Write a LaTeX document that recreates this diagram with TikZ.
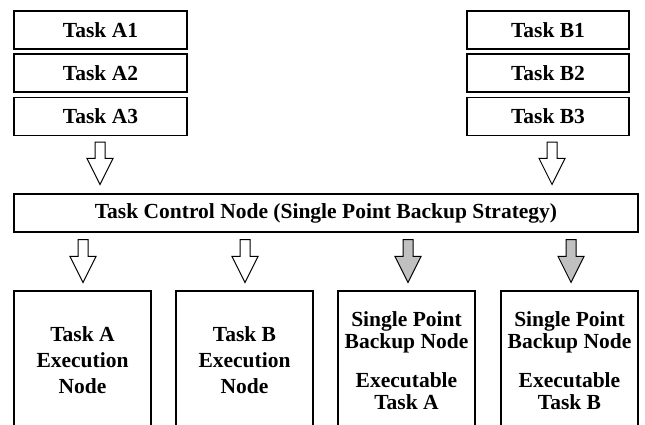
\documentclass[tikz,border=0pt]{standalone}
\usepackage{fontspec}
\setmainfont{Liberation Serif}
\usetikzlibrary{calc}
\tikzset{
  x=1pt, y=1pt,
  taskbox/.style={draw, line width=1.2pt, minimum height=38pt, inner sep=0pt,
    font=\fontsize{21.5}{26}\selectfont\bfseries},
  bigbox/.style={draw, line width=1.2pt, minimum width=137pt, minimum height=139pt,
    inner sep=0pt, align=center},
  arrowline/.style={draw, line width=1pt, line join=miter},
}
\newcommand{\blkarrow}[3]{%
  \path[arrowline, fill=#1] let \p1=#2, \p2=#3 in
    (\x1-5pt,\y1) -- (\x1+5pt,\y1) -- (\x1+5pt,\y2+26pt) -- (\x1+13pt,\y2+26pt)
    -- (\x1,\y2) -- (\x1-13pt,\y2+26pt) -- (\x1-5pt,\y2+26pt) -- cycle;}
\definecolor{arrgray}{RGB}{192,192,192}
\begin{document}
\begin{tikzpicture}
\clip (0,0) rectangle (645,425);
% task A stack
\node[taskbox, minimum width=173pt] (A1) at (100.5,395) {Task A1};
\node[taskbox, minimum width=173pt] (A2) at (100.5,352) {Task A2};
\node[taskbox, minimum width=173pt] (A3) at (100.5,308.5) {Task A3};
% task B stack
\node[taskbox, minimum width=162pt] (B1) at (548,395) {Task B1};
\node[taskbox, minimum width=162pt] (B2) at (548,352) {Task B2};
\node[taskbox, minimum width=162pt] (B3) at (548,308.5) {Task B3};
% control node
\node[taskbox, minimum width=624pt] (ctrl) at (326,212) {Task Control Node (Single Point Backup Strategy)};
% bottom boxes
\node[bigbox, font=\fontsize{21.5}{26}\selectfont\bfseries] (EA) at (82.5,64.5) {Task A\\Execution\\Node};
\node[bigbox, font=\fontsize{21.5}{26}\selectfont\bfseries] (EB) at (244.5,64.5) {Task B\\Execution\\Node};
\node[bigbox, font=\fontsize{21.5}{21.5}\selectfont\bfseries] (SA) at (406.5,64.5) {Single Point\\Backup Node\\[18pt]Executable\\Task A};
\node[bigbox, font=\fontsize{21.5}{21.5}\selectfont\bfseries] (SB) at (569.5,64.5) {Single Point\\Backup Node\\[18pt]Executable\\Task B};
% block arrows
\coordinate (atop) at ($(A3.south)+(-0.5,-6)$);
\coordinate (atip) at ($(atop |- ctrl.north)+(0,9)$);
\coordinate (btop) at ($(B3.south)+(4,-6)$);
\coordinate (btip) at ($(btop |- ctrl.north)+(0,9)$);
\blkarrow{white}{(atop)}{(atip)}
\blkarrow{white}{(btop)}{(btip)}
\blkarrow{white}{($(EA.north |- ctrl.south)+(0.5,-7)$)}{($(EA.north)+(0.5,8)$)}
\blkarrow{white}{($(EB.north |- ctrl.south)+(0.5,-7)$)}{($(EB.north)+(0.5,8)$)}
\blkarrow{arrgray}{($(SA.north |- ctrl.south)+(1.5,-7)$)}{($(SA.north)+(1.5,8)$)}
\blkarrow{arrgray}{($(SB.north |- ctrl.south)+(1.5,-7)$)}{($(SB.north)+(1.5,8)$)}
\end{tikzpicture}
\end{document}
